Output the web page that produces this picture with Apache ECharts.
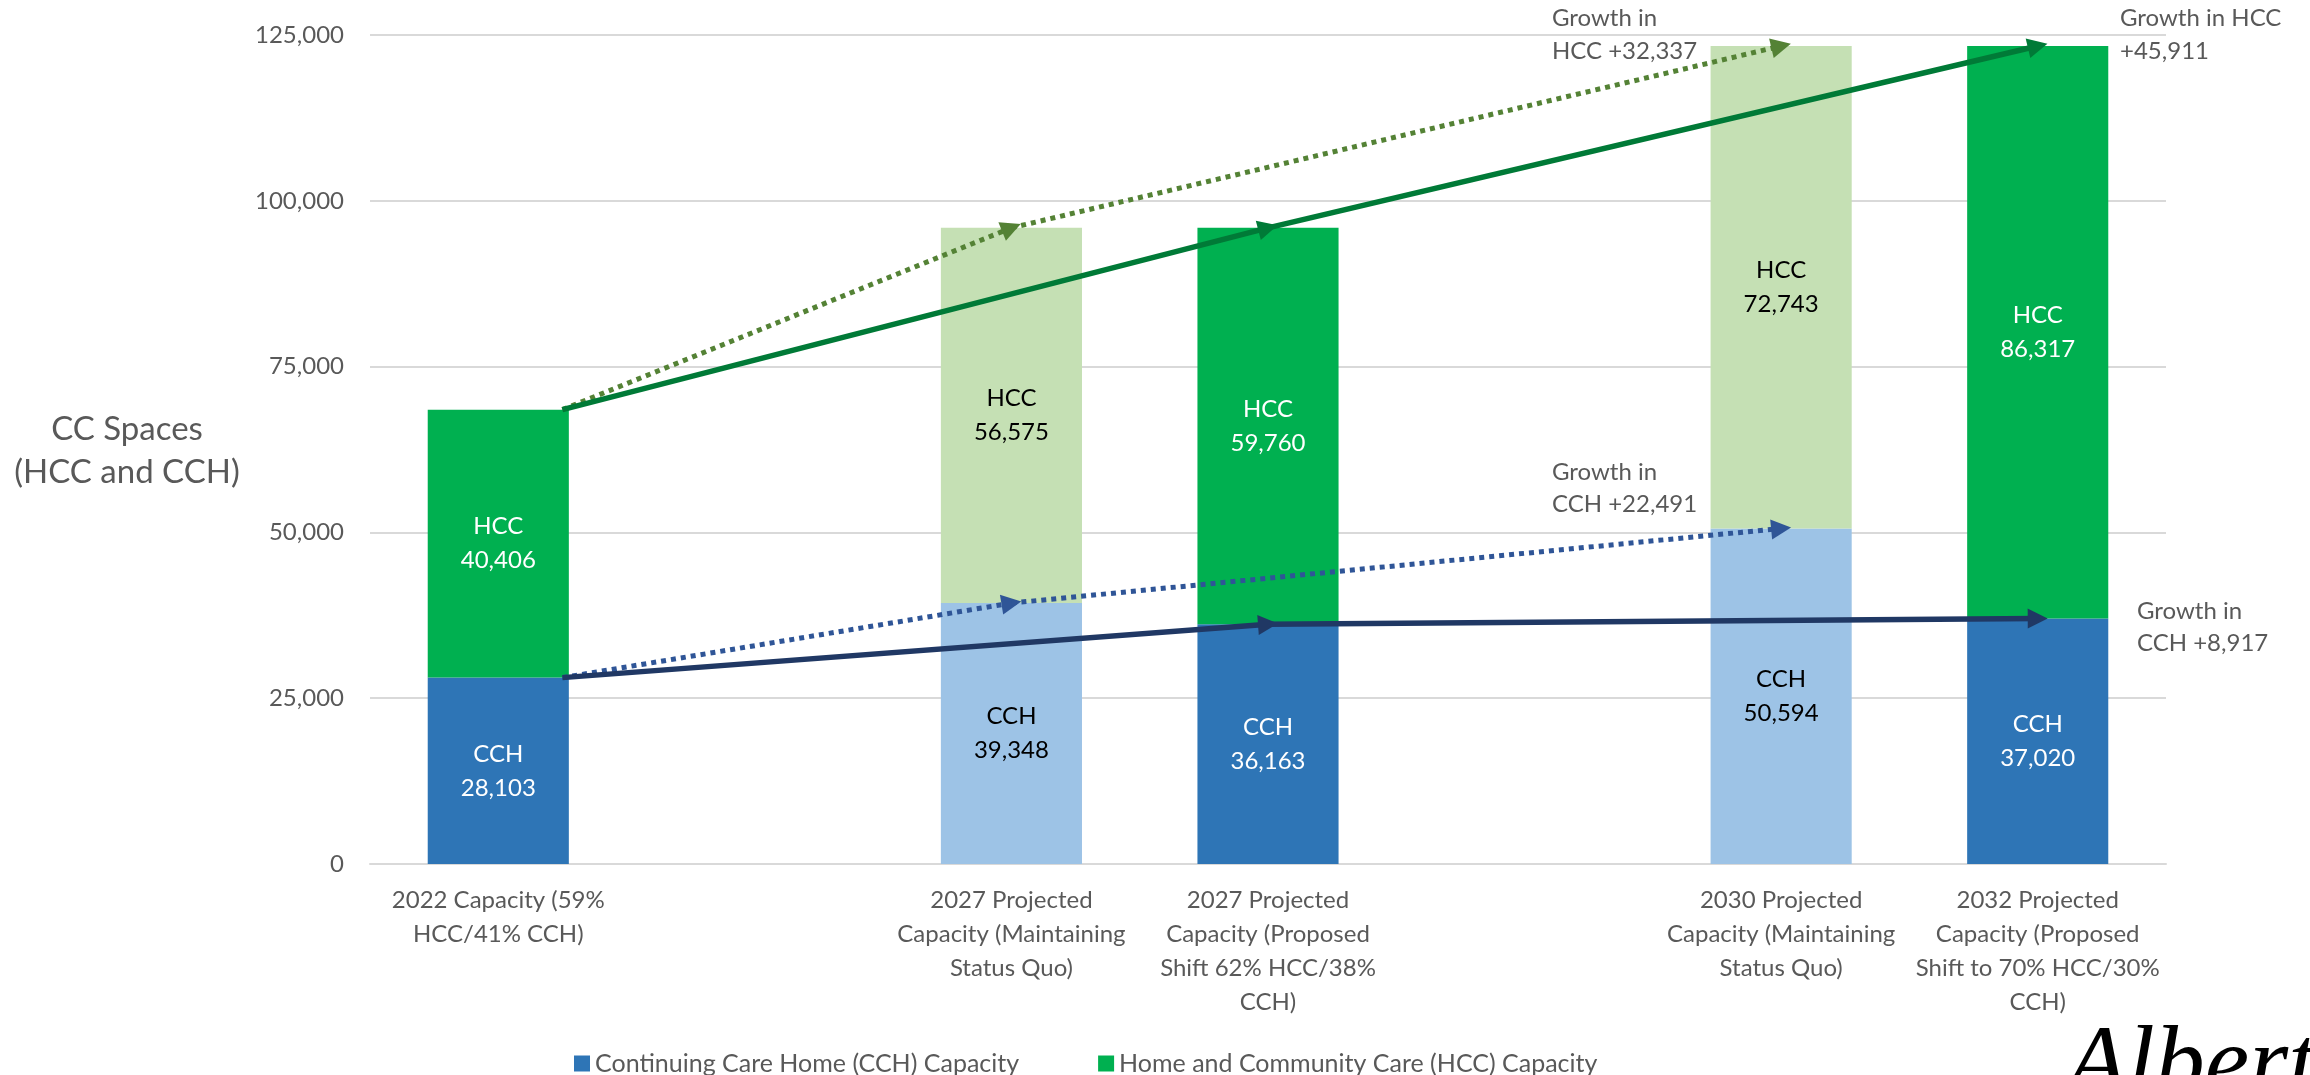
<!DOCTYPE html>
<html><head><meta charset="utf-8">
<script src="https://cdn.jsdelivr.net/npm/echarts@6/dist/echarts.min.js"></script>
<style>html,body{margin:0;padding:0;background:#fff}#c{width:2310px;height:1075px}</style>
</head><body><div id="c"></div>
<script>
// ---- data ----
const categories = [
  '2022 Capacity (59%\nHCC/41% CCH)',
  '',
  '2027 Projected\nCapacity (Maintaining\nStatus Quo)',
  '2027 Projected\nCapacity (Proposed\nShift 62% HCC/38%\nCCH)',
  '',
  '2030 Projected\nCapacity (Maintaining\nStatus Quo)',
  '2032 Projected\nCapacity (Proposed\nShift to 70% HCC/30%\nCCH)'
];
const scenario = ['current', '', 'status quo', 'proposed', '', 'status quo', 'proposed'];
const cchValues = [28103, null, 39348, 36163, null, 50594, 37020];
const hccValues = [40406, null, 56575, 59760, null, 72743, 86317];
const yTicks = [0, 25000, 50000, 75000, 100000, 125000];
const seriesNames = ['Continuing Care Home (CCH) Capacity', 'Home and Community Care (HCC) Capacity'];
const statusQuoPath = [0, 2, 5];
const proposedPath = [0, 3, 6];

// ---- styles ----
const FONT = 'Lato';
const GREY = '#595959';
const C = {
  cch: '#2E75B6', hcc: '#00B050',
  cchLight: '#9DC3E6', hccLight: '#C5E0B4',
  hccDot: '#548235', hccSolid: '#007A37',
  cchDot: '#2F5597', cchSolid: '#203864'
};
const BAR_EDGE = 0.25;

const fmt = v => Number(v).toLocaleString('en-US');
const isLight = i => scenario[i] === 'status quo';

function barData(values, dark, light, tag) {
  return values.map((v, i) => v == null ? null : {
    value: v,
    itemStyle: { color: isLight(i) ? light : dark },
    label: { color: isLight(i) ? '#000000' : '#FFFFFF', formatter: tag + '\n' + fmt(v) }
  });
}
const total = i => cchValues[i] + hccValues[i];

function pathSegments(path, valFn) {
  const segs = [];
  for (let k = 0; k < path.length - 1; k++) {
    const a = path[k], b = path[k + 1];
    const x0 = k === 0 ? a + BAR_EDGE : a;
    segs.push({ coords: [[x0, valFn(a)], [b, valFn(b)]] });
  }
  return segs;
}
function arrowSeries(path, valFn, color, dotted) {
  return {
    type: 'lines', coordinateSystem: 'cartesian2d', xAxisIndex: 1, yAxisIndex: 0,
    z: 5, silent: true,
    symbol: ['none', 'triangle'], symbolSize: [17, 20],
    lineStyle: { color: color, width: dotted ? 5 : 5.5, type: dotted ? [5, 5] : 'solid', opacity: 1, cap: 'butt' },
    data: pathSegments(path, valFn)
  };
}

const chart = echarts.init(document.getElementById('c'), null, { renderer: 'canvas' });
const option = {
  animation: false,
  textStyle: { fontFamily: FONT },
  grid: { left: 370, right: 144, top: 35, bottom: 211 },
  legend: {
    data: seriesNames, left: 569, top: 1046, padding: 5, icon: 'rect', itemWidth: 16, itemHeight: 16, itemGap: 79,
    textStyle: { color: GREY, fontSize: 25, fontFamily: FONT }
  },
  xAxis: [
    {
      type: 'category', data: categories,
      axisTick: { show: false },
      axisLine: { lineStyle: { color: '#D9D9D9', width: 2 } },
      axisLabel: { interval: 0, color: GREY, fontSize: 24, lineHeight: 34, margin: 19, fontFamily: FONT }
    },
    { type: 'value', min: -0.5, max: categories.length - 0.5, show: false }
  ],
  yAxis: {
    type: 'value', min: yTicks[0], max: yTicks[yTicks.length - 1], interval: yTicks[1] - yTicks[0],
    axisLine: { show: false }, axisTick: { show: false },
    axisLabel: { color: GREY, fontSize: 24, margin: 26, formatter: v => fmt(v), fontFamily: FONT },
    splitLine: { lineStyle: { color: '#D9D9D9', width: 2 } }
  },
  series: [
    {
      name: seriesNames[0], type: 'bar', stack: 'cc', barWidth: '55%',
      itemStyle: { color: C.cch },
      label: { show: true, position: 'inside', fontSize: 24, lineHeight: 34, fontFamily: FONT },
      data: barData(cchValues, C.cch, C.cchLight, 'CCH')
    },
    {
      name: seriesNames[1], type: 'bar', stack: 'cc', barWidth: '55%',
      itemStyle: { color: C.hcc },
      label: { show: true, position: 'inside', fontSize: 24, lineHeight: 34, fontFamily: FONT },
      data: barData(hccValues, C.hcc, C.hccLight, 'HCC')
    },
    arrowSeries(statusQuoPath, total, C.hccDot, true),
    arrowSeries(proposedPath, total, C.hccSolid, false),
    arrowSeries(statusQuoPath, i => cchValues[i], C.cchDot, true),
    arrowSeries(proposedPath, i => cchValues[i], C.cchSolid, false)
  ],
  graphic: [
    { type: 'text', x: 127, y: 408, style: { text: 'CC Spaces\n(HCC and CCH)', fill: GREY, font: '33px ' + FONT, lineHeight: 43, align: 'center', verticalAlign: 'top' } },
    { type: 'text', left: 1552, top: 2, style: { text: 'Growth in\nHCC +' + fmt(hccValues[5] - hccValues[0]), fill: GREY, font: '24px ' + FONT, lineHeight: 33 } },
    { type: 'text', left: 2120, top: 2, style: { text: 'Growth in HCC\n+' + fmt(hccValues[6] - hccValues[0]), fill: GREY, font: '24px ' + FONT, lineHeight: 33 } },
    { type: 'text', left: 1552, top: 456, style: { text: 'Growth in\nCCH +' + fmt(cchValues[5] - cchValues[0]), fill: GREY, font: '24px ' + FONT, lineHeight: 32 } },
    { type: 'text', left: 2137, top: 595, style: { text: 'Growth in\nCCH +' + fmt(cchValues[6] - cchValues[0]), fill: GREY, font: '24px ' + FONT, lineHeight: 32 } },
    { type: 'text', x: 2066, y: 1018, style: { text: 'Alberta', fill: '#000', font: 'italic 100px "Liberation Serif"', verticalAlign: 'top' } }
  ]
};
chart.setOption(option);
</script>
</body></html>
